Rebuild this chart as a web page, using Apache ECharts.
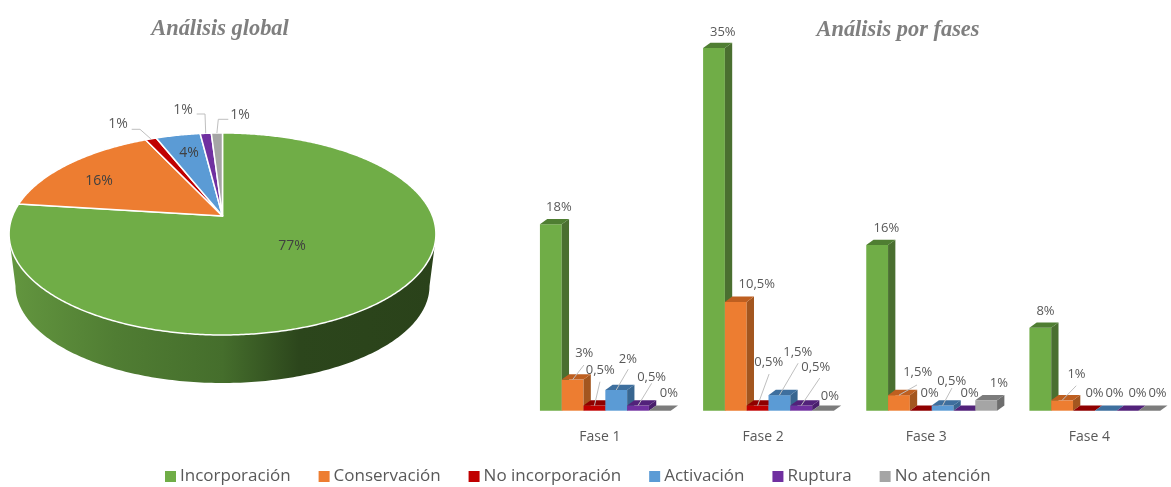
<!DOCTYPE html>
<html><head><meta charset="utf-8">
<style>html,body{margin:0;padding:0;background:#fff}#c{width:1171px;height:487px}</style>
<script src="https://cdn.jsdelivr.net/npm/echarts@6/dist/echarts.min.js"></script>
</head><body><div id="c"></div>
<script>
// ---- data ----
const seriesNames = ['Incorporación','Conservación','No incorporación','Activación','Ruptura','No atención'];
const phases = ['Fase 1','Fase 2','Fase 3','Fase 4'];
const globalShare = [77,16,1,4,1,1];
const incorporacion = [18,35,16,8];
const conservacion = [3,10.5,1.5,1];
const noIncorporacion = [0.5,0.5,0,0];
const activacion = [2,1.5,0.5,0];
const ruptura = [0.5,0.5,0,0];
const noAtencion = [0,0,1,0];
const phaseValues = [incorporacion,conservacion,noIncorporacion,activacion,ruptura,noAtencion];

// ---- style & layout ----
const colors = ['#70AD47','#ED7D31','#C00000','#5B9BD5','#7030A0','#A5A5A5'];
const topFace = ['#4F7E32','#BE5F20','#8F0000','#3E6F9E','#52227A','#7C7C7C'];
const sideFace = ['#4A6F30','#A3561F','#7E0000','#386690','#491F6C','#6E6E6E'];
const FONT = '"Open Sans","Noto Sans",sans-serif';
const barW = 21.8, depthX = 7.3, depthY = 5.3, clusterShift = 5.4;
// label centre relative to the top centre of its bar: [series][phase] -> [dx,dy]
const labelOffset = [
 [[8,-17],[8.8,-16],[9.2,-17],[5.2,-16.8]],
 [[11.6,-26.3],[21,-17.9],[18.7,-22.5],[14.4,-26.3]],
 [[5.8,-34.8],[11.2,-42.8],[8.9,-17.4],[10.6,-17.7]],
 [[11.7,-31],[18.4,-42.5],[9.1,-24.5],[8.8,-17.7]],
 [[13.6,-27.8],[14.6,-38.5],[5.3,-17.4],[10,-17.7]],
 [[9,-17.7],[6.8,-14.7],[12.8,-17],[8.2,-17.7]]
];
// leader start relative to the top centre of its bar (null: no leader)
const leaderStart = [
 [null,null,null,null],
 [[11.3,-14.6],null,[18,-10.2],[14.1,-14.6]],
 [[5.5,-23.8],[11.5,-31.5],null,null],
 [[12,-20.7],[18.7,-31.9],[9.4,-17.5],null],
 [[13.6,-22.2],[18.6,-27.5],null,null],
 [null,null,null,null]
];
const pie = {cx:222.5, cy:216, R:210, k:97.8, p:0.178, wallCy:286, wallRx:207, wallRy:97};
const pieOuter = {
 2:{label:[118,124], path:[[131.7,129.3],[140,129.3]]},
 4:{label:[183,110], path:[[196.7,114],[205,114]]},
 5:{label:[240,115], path:[[228.3,119.3],[218.3,119.3]]}
};
const pieInner = {0:[292,246],1:[99,181],3:[189,153]};

function rim(theta){
  const w = 1 + pie.p*Math.cos(theta);
  return [pie.cx + pie.R*Math.sin(theta)/w, pie.cy - pie.k*Math.cos(theta)/w];
}
const total = globalShare.reduce((a,b)=>a+b,0);

function renderPie(params, api){
  const i = params.dataIndex;
  const v = api.value(0);
  let start = 0;
  for(let j=0;j<i;j++) start += globalShare[j];
  const a0 = start/total*Math.PI*2, a1 = (start+v)/total*Math.PI*2;
  const pts = [[pie.cx,pie.cy]];
  const n = Math.max(4, Math.ceil((a1-a0)/0.01));
  for(let t=0;t<=n;t++) pts.push(rim(a0+(a1-a0)*t/n));
  const children = [];
  if(i===0){
    const wall = [rim(105*Math.PI/180)];
    for(let d=0;d<=180;d+=1){
      const r = d*Math.PI/180;
      wall.push([pie.cx+pie.wallRx*Math.cos(r), pie.wallCy+pie.wallRy*Math.sin(r)]);
    }
    wall.push(rim(255*Math.PI/180));
    children.push({type:'polygon',shape:{points:wall},z2:1,style:{
      fill:new echarts.graphic.LinearGradient(0,0,1,0,[
        {offset:0,color:'#63963F'},{offset:0.25,color:'#507D33'},{offset:0.5,color:'#456E2C'},
        {offset:0.68,color:'#2C461C'},{offset:1,color:'#2A421A'}]),
      stroke:null}});
  }
  children.push({type:'polygon',shape:{points:pts},z2:2,
    style:{fill:colors[i],stroke:'#fff',lineWidth:1.5,lineJoin:'round'}});
  const txt = v+'%';
  if(pieInner[i]){
    children.push({type:'text',z2:20,style:{text:txt,x:pieInner[i][0],y:pieInner[i][1],
      fill:'#404040',font:'14px '+FONT,align:'center',verticalAlign:'middle'}});
  }
  if(pieOuter[i]){
    const o = pieOuter[i];
    const m = rim((a0+a1)/2);
    children.push({type:'polyline',z2:10,shape:{points:o.path.concat([m])},
      style:{stroke:'#BFBFBF',lineWidth:1,fill:null}});
    children.push({type:'text',z2:20,style:{text:txt,x:o.label[0],y:o.label[1],
      fill:'#595959',font:'14px '+FONT,align:'center',verticalAlign:'middle'}});
  }
  return {type:'group',children};
}

function makeBarRenderer(s){
  return function(params, api){
    const c = api.value(0), v = api.value(1);
    const base = api.coord([c,0]), top = api.coord([c,v]);
    const xc = base[0] + clusterShift + (s-2.5)*barW;
    const l = xc-barW/2, r = xc+barW/2, y0 = base[1], y1 = top[1];
    const children = [];
    if(v>0){
      children.push({type:'rect',shape:{x:l,y:y1,width:barW,height:y0-y1},style:{fill:colors[s]},z2:s+2});
      children.push({type:'polygon',shape:{points:[[r,y1],[r+depthX,y1-depthY],[r+depthX,y0-depthY],[r,y0]]},
        style:{fill:sideFace[s]},z2:s+2});
    }
    children.push({type:'polygon',shape:{points:[[l,y1],[l+depthX,y1-depthY],[r+depthX,y1-depthY],[r,y1]]},
      style:{fill:topFace[s]},z2:s+2});
    const off = labelOffset[s][c], ls = leaderStart[s][c];
    if(ls){
      children.push({type:'line',z2:30,shape:{x1:xc+ls[0],y1:y1+ls[1],x2:xc,y2:y1},
        style:{stroke:'#BFBFBF',lineWidth:1}});
    }
    children.push({type:'text',z2:40,style:{text:String(v).replace('.',',')+'%',
      x:xc+off[0],y:y1+off[1],fill:'#595959',font:'13px '+FONT,align:'center',verticalAlign:'middle'}});
    return {type:'group',children};
  };
}

const chart = echarts.init(document.getElementById('c'),null,{renderer:'canvas'});
const titleStyle = {color:'#7F7F7F',fontFamily:'"Liberation Serif",serif',fontWeight:'bold',fontStyle:'italic',fontSize:22.4};
chart.setOption({
  animation:false,
  backgroundColor:'#fff',
  title:[
    {text:'Análisis global',left:215,top:13,textAlign:'center',textStyle:titleStyle},
    {text:'Análisis por fases',left:893,top:14,textAlign:'center',textStyle:titleStyle}
  ],
  legend:{data:seriesNames,left:165,top:468,padding:0,icon:'rect',itemWidth:11,itemHeight:11,itemGap:28,
    textStyle:{color:'#595959',fontFamily:FONT,fontSize:17,padding:[0,0,0,-1]}},
  grid:{left:518.35,top:37.74,width:653.2,height:372.96,containLabel:false},
  xAxis:{type:'category',data:phases,axisLine:{show:false},axisTick:{show:false},
    axisLabel:{color:'#595959',fontFamily:FONT,fontSize:14,margin:19}},
  yAxis:{type:'value',min:0,max:36,interval:4,show:false,splitLine:{show:false}},
  series:[
    {name:'Análisis global',type:'custom',coordinateSystem:'none',renderItem:renderPie,
      data:globalShare.map(v=>[v]),silent:true,z:1}
  ].concat(seriesNames.map((name,s)=>({
    name,type:'custom',coordinateSystem:'cartesian2d',xAxisIndex:0,yAxisIndex:0,
    renderItem:makeBarRenderer(s),itemStyle:{color:colors[s]},
    encode:{x:0,y:1},
    data:phaseValues[s].map((v,i)=>[i,v]),silent:true,z:2
  })))
});
</script></body></html>
